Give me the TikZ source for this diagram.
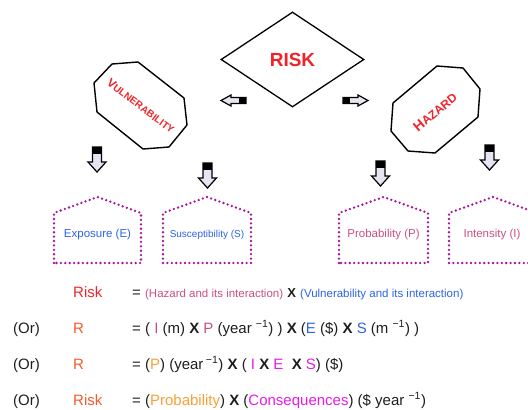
\documentclass[tikz,border=0pt]{standalone}
\usepackage{fontspec}
\setmainfont{Liberation Sans}
\usetikzlibrary{shapes.geometric}
\definecolor{riskred}{RGB}{240,36,40}
\definecolor{rorange}{RGB}{242,90,42}
\definecolor{hazpink}{RGB}{200,80,128}
\definecolor{vulblue}{RGB}{45,99,230}
\definecolor{proborange}{RGB}{247,160,53}
\definecolor{consmag}{RGB}{232,26,232}
\definecolor{dotpurple}{RGB}{168,19,156}
\definecolor{arrfill}{RGB}{230,230,242}
\definecolor{txtgray}{RGB}{30,30,30}
\def\dothouse(#1:#2){\draw[houseline] (#1,263) -- (#1,213) -- ({(#1+#2)/2},197) -- (#2,213) -- (#2,263) -- cycle;}

\begin{document}
\begin{tikzpicture}[x=1pt, y=-1pt,
		octline/.style={line width=1.4pt, line join=round},
		houseline/.style={dotpurple, line width=2.6pt, line cap=round, dash pattern=on 0pt off 4.4pt},
		housetext/.style={font=\fontsize{11.5}{13}\selectfont, inner sep=0pt},
		eqtext/.style={anchor=base west, inner sep=0pt, text=txtgray, font=\fontsize{15}{17}\selectfont},
		pics/blkarrow/.style args={#1/#2}{code={
			\fill[arrfill] (-#2,0) -- (-#2,15) -- (-#1,15) -- (0,25) -- (#1,15) -- (#2,15) -- (#2,0) -- cycle;
			\fill[black] (-#2,0) rectangle (#2,7);
			\draw[line width=1.2pt, line join=miter] (-#2,0) -- (-#2,15) -- (-#1,15) -- (0,25) -- (#1,15) -- (#2,15) -- (#2,0) -- cycle;
		}}]
		%%%%% START %%%%%
		\useasboundingbox (0,0) rectangle (528,410);
		
		% risk diamond
		\node[diamond, draw, line width=1.3pt, minimum width=143pt, minimum height=95pt, inner sep=0pt, text=riskred, font=\fontsize{19}{21}\selectfont\bfseries] (risk) at (292.5,59.5) {RISK};
		
		% vulnerability
		\draw[octline] (112,64) -- (138,62) -- (184,98) -- (187,125) -- (169,147) -- (143,149) -- (97,112) -- (94,83) -- cycle;
		\node[rotate=-37, text=riskred, font=\bfseries, inner sep=0pt] (vuln) at (141,106) {{\fontsize{12}{12}\selectfont V}{\fontsize{10}{10}\selectfont ULNERABILITY}};
		
		% hazard
		\draw[octline] (437,66) -- (463,68) -- (480,89) -- (478,117) -- (435,153) -- (408,151) -- (391,131) -- (393,103) -- cycle;
		\node[rotate=40, text=riskred, font=\bfseries, inner sep=0pt] (haz) at (435,112) {{\fontsize{14}{14}\selectfont H}{\fontsize{12}{12}\selectfont AZARD}};
		
		% arrows
		\pic[rotate=-90] at (246,100.5) {blkarrow=5.5/3};
		\pic[rotate=90] at (343,100.5) {blkarrow=5.5/3};
		\pic at (97,147) {blkarrow=9/4.5};
		\pic at (207.5,163) {blkarrow=9/4.5};
		\pic at (380.5,161) {blkarrow=9/4.5};
		\pic at (489.5,145) {blkarrow=9/4.5};
		
		% houses
		\dothouse(54:141)
		\dothouse(163:251)
		\dothouse(339:428)
		\dothouse(449:537)
		\node[housetext, text=vulblue] (expo) at (97.5,235) {Exposure (E)};
		\node[housetext, text=vulblue, font=\fontsize{10}{12}\selectfont] (susc) at (207,235) {Susceptibility (S)};
		\node[housetext, text=hazpink] (prob) at (383.5,235) {Probability (P)};
		\node[housetext, text=hazpink] (inte) at (492,235) {Intensity (I)};
		
		% equations
		\node[eqtext, text=riskred] (r1) at (73,297) {Risk};
		\node[eqtext] (e1) at (132,297) {= {\fontsize{11.5}{13}\selectfont\color{hazpink}(Hazard and its interaction)} {\fontsize{13}{13}\selectfont\bfseries X} {\fontsize{11.5}{13}\selectfont\color{vulblue}(Vulnerability and its interaction)}};
		
		\node[eqtext] (or2) at (13,333) {(Or)};
		\node[eqtext, text=rorange] (r2) at (73,333) {R};
		\node[eqtext] (e2) at (132,333) {= ( {\color{hazpink}I} (m) \textbf{X} {\color{hazpink}P} (year \textsuperscript{−1}) ) \textbf{X} ({\color{vulblue}E} (\$) \textbf{X} {\color{vulblue}S} (m \textsuperscript{−1}) )};
		
		\node[eqtext] (or3) at (13,369) {(Or)};
		\node[eqtext, text=rorange] (r3) at (73,369) {R};
		\node[eqtext] (e3) at (132,369) {= ({\color{proborange}P}) (year\,\textsuperscript{−1}) \textbf{X} ( {\color{consmag}I} \textbf{X} {\color{consmag}E}\ \ \textbf{X} {\color{consmag}S}) (\$)};
		
		\node[eqtext] (or4) at (13,405) {(Or)};
		\node[eqtext, text=rorange] (r4) at (73,405) {Risk};
		\node[eqtext] (e4) at (132,405) {= ({\color{proborange}Probability}) \textbf{X} ({\color{consmag}Consequences}) (\$ year \textsuperscript{−1})};
		
		%%%%% END %%%%%
	\end{tikzpicture}
\end{document}
